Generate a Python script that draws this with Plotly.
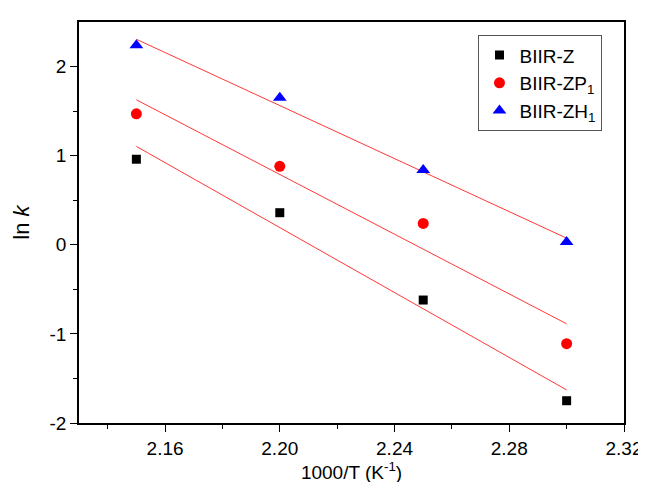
import numpy as np
import plotly.graph_objects as go

x_vals = [2.15, 2.20, 2.25, 2.30]
biir_z = [0.96, 0.36, -0.62, -1.75]
biir_zp1 = [1.47, 0.88, 0.24, -1.11]
biir_zh1 = [2.24, 1.65, 0.84, 0.03]

series_names = ["BIIR-Z", "BIIR-ZP<sub>1</sub>", "BIIR-ZH<sub>1</sub>"]
y_tickvals = [-2, -1, 0, 1, 2]
y_ticktext = ["-2", "-1", "0", "1", "2"]
x_tickvals = [2.16, 2.20, 2.24, 2.28, 2.32]
x_ticktext = ["2.16", "2.20", "2.24", "2.28", "2.32"]

FONT = "Liberation Sans, Arial, sans-serif"
fig = go.Figure()

styles = [
    dict(symbol="square", color="black", size=9),
    dict(symbol="circle", color="red", size=11),
    dict(symbol="triangle-up", color="blue", size=12),
]
all_series = [biir_z, biir_zp1, biir_zh1]

# fitted lines (linear regression of each series)
xa = np.array(x_vals)
for ys in all_series:
    m, b = np.polyfit(xa, np.array(ys), 1)
    fig.add_trace(go.Scatter(x=x_vals, y=list(m * xa + b), mode="lines",
                             line=dict(color="#ff3838", width=1), showlegend=False,
                             hoverinfo="skip"))

for name, ys, st in zip(series_names, all_series, styles):
    fig.add_trace(go.Scatter(x=x_vals, y=ys, mode="markers", name=name,
                             marker=dict(symbol=st["symbol"], color=st["color"],
                                         size=st["size"], line=dict(width=0))))

axis_common = dict(showgrid=False, zeroline=False, showline=True, linecolor="black",
                   linewidth=1.5, mirror=True, ticks="outside", ticklen=7, tickwidth=1.2,
                   tickcolor="black", tickfont=dict(family=FONT, size=19, color="black"))

fig.update_layout(
    width=646, height=482,
    margin=dict(l=71, r=23, t=12, b=64),
    paper_bgcolor="white", plot_bgcolor="white",
    font=dict(family=FONT, size=18, color="black"),
    xaxis=dict(range=[2.13, 2.32], tickvals=x_tickvals, ticktext=x_ticktext,
               minor=dict(ticks="outside", ticklen=4, tickwidth=1.2, tickcolor="black",
                          tickvals=[2.14, 2.18, 2.22, 2.26, 2.30]),
               title=dict(text="1000/T (K<sup>-1</sup>)", font=dict(family=FONT, size=19),
                          standoff=6),
               **axis_common),
    yaxis=dict(range=[-2, 2.5], tickvals=y_tickvals, ticktext=y_ticktext,
               minor=dict(ticks="outside", ticklen=4, tickwidth=1.2, tickcolor="black",
                          tickvals=[-1.5, -0.5, 0.5, 1.5]),
               title=dict(text="ln <i>k</i>", font=dict(family=FONT, size=22), standoff=14),
               **axis_common),
    legend=dict(x=0.733, y=0.967, xanchor="left", yanchor="top",
                bordercolor="#555555", borderwidth=1, bgcolor="white",
                font=dict(family=FONT, size=19), tracegroupgap=0, itemwidth=30),
)

fig.write_html("out.html")
